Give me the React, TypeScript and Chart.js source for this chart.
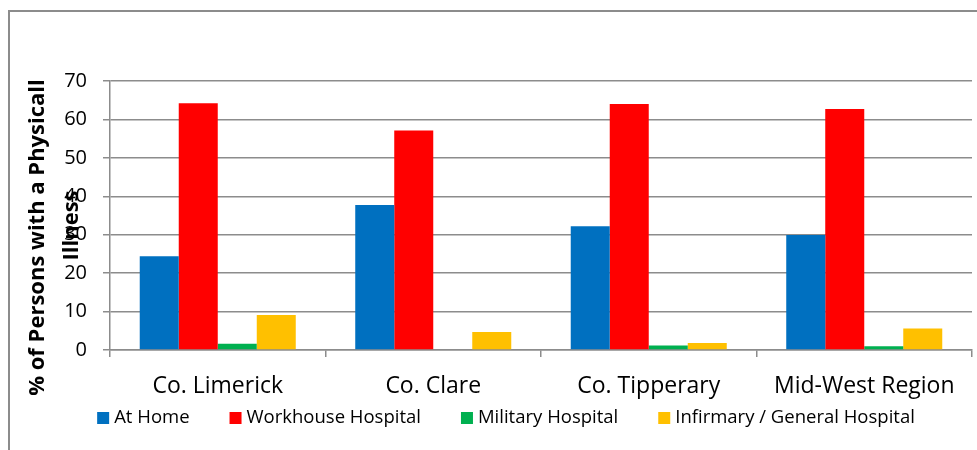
import React, { useEffect, useRef } from "react";
import { Chart, registerables } from "chart.js";

Chart.register(...registerables);

const categories = ["Co. Limerick", "Co. Clare", "Co. Tipperary", "Mid-West Region"];
const seriesNames = ["At Home", "Workhouse Hospital", "Military Hospital", "Infirmary / General Hospital"];
const atHome = [24.4, 37.7, 32.2, 29.9];
const workhouseHospital = [64.2, 57.1, 64.0, 62.7];
const militaryHospital = [1.6, 0, 1.2, 1.0];
const infirmaryGeneral = [9.1, 4.7, 1.8, 5.6];
const seriesColors = ["#0070C0", "#FF0000", "#00B050", "#FFC000"];
const yMin = 0;
const yMax = 70;
const yStep = 10;
const yTitleLines = ["% of Persons with a Physicall", "Illness"];

const FONT = "'Open Sans', 'DejaVu Sans', sans-serif";
const GRID = "#8c8c8c";

const framePlugin = {
  id: "frame",
  beforeDraw(chart: any) {
    const ctx = chart.ctx;
    ctx.save();
    ctx.strokeStyle = GRID;
    ctx.lineWidth = 2;
    ctx.beginPath();
    ctx.moveTo(9, chart.height);
    ctx.lineTo(9, 11);
    ctx.lineTo(chart.width, 11);
    ctx.stroke();
    ctx.restore();
  },
};

const yTitlePlugin = {
  id: "yTitle",
  afterDraw(chart: any) {
    const ctx = chart.ctx;
    const area = chart.chartArea;
    ctx.save();
    ctx.fillStyle = "#000";
    ctx.font = `bold 22px ${FONT}`;
    ctx.textAlign = "center";
    ctx.textBaseline = "middle";
    const mid = (area.top + area.bottom) / 2;
    const pos = [
      { x: 38, y: mid + 22 },
      { x: 72, y: mid + 10 },
    ];
    yTitleLines.forEach((line, i) => {
      ctx.save();
      ctx.translate(pos[i].x, pos[i].y);
      ctx.rotate(-Math.PI / 2);
      ctx.fillText(line, 0, 0);
      ctx.restore();
    });
    ctx.restore();
  },
};

// Bottom legend drawn from the chart's datasets (box, gap, text; items centred)
const legendPlugin = {
  id: "bottomLegend",
  afterDraw(chart: any) {
    const ctx = chart.ctx;
    const box = 12;
    const gapBoxText = 5;
    const gapItems = 40;
    const cy = 418;
    const centerX = 506;
    ctx.save();
    ctx.font = `18.5px ${FONT}`;
    ctx.textBaseline = "middle";
    ctx.textAlign = "left";
    const items = chart.data.datasets.map((ds: any) => ({
      text: ds.label,
      color: ds.backgroundColor,
      w: box + gapBoxText + ctx.measureText(ds.label).width,
    }));
    const total = items.reduce((s: number, it: any) => s + it.w, 0) + gapItems * (items.length - 1);
    let x = centerX - total / 2;
    items.forEach((it: any) => {
      ctx.fillStyle = it.color;
      ctx.fillRect(x, cy - box / 2, box, box);
      ctx.fillStyle = "#000";
      ctx.fillText(it.text, x + box + gapBoxText, cy);
      x += it.w + gapItems;
    });
    ctx.restore();
  },
};

export default function App() {
  const ref = useRef<HTMLCanvasElement | null>(null);

  useEffect(() => {
    if (!ref.current) return;
    const values = [atHome, workhouseHospital, militaryHospital, infirmaryGeneral];
    const chart = new Chart(ref.current, {
      type: "bar",
      data: {
        labels: categories,
        datasets: values.map((v, i) => ({
          label: seriesNames[i],
          data: v,
          backgroundColor: seriesColors[i],
          borderColor: seriesColors[i],
          borderWidth: 0,
          categoryPercentage: 0.724,
          barPercentage: 1,
        })),
      },
      options: {
        responsive: false,
        animation: false,
        layout: { padding: { left: 40, right: 5, top: 81, bottom: 40 } },
        plugins: {
          legend: { display: false },
          tooltip: { enabled: false },
          title: { display: false },
        },
        scales: {
          x: {
            afterFit: (s: any) => {
              s.height = 60;
            },
            grid: {
              display: true,
              drawOnChartArea: false,
              drawTicks: true,
              tickLength: 7,
              color: GRID,
              lineWidth: 1.5,
              offset: true,
            },
            border: { display: true, color: GRID, width: 1.5 },
            ticks: {
              color: "#000",
              padding: 16,
              maxRotation: 0,
              autoSkip: false,
              font: { family: FONT, size: 23 },
            },
          },
          y: {
            min: yMin,
            max: yMax,
            afterFit: (s: any) => {
              s.width = 70;
            },
            grid: {
              color: GRID,
              lineWidth: 1.5,
              tickLength: 7,
              drawTicks: true,
            },
            border: { display: true, color: GRID, width: 1.5 },
            ticks: {
              stepSize: yStep,
              color: "#000",
              padding: 16,
              font: { family: FONT, size: 20 },
            },
          },
        },
      },
      plugins: [framePlugin, yTitlePlugin, legendPlugin],
    });
    return () => chart.destroy();
  }, []);

  return (
    <div style={{ position: "fixed", left: 0, top: 0, width: 977, height: 450, background: "#fff" }}>
      <canvas ref={ref} width={977} height={450} style={{ display: "block" }} />
    </div>
  );
}
